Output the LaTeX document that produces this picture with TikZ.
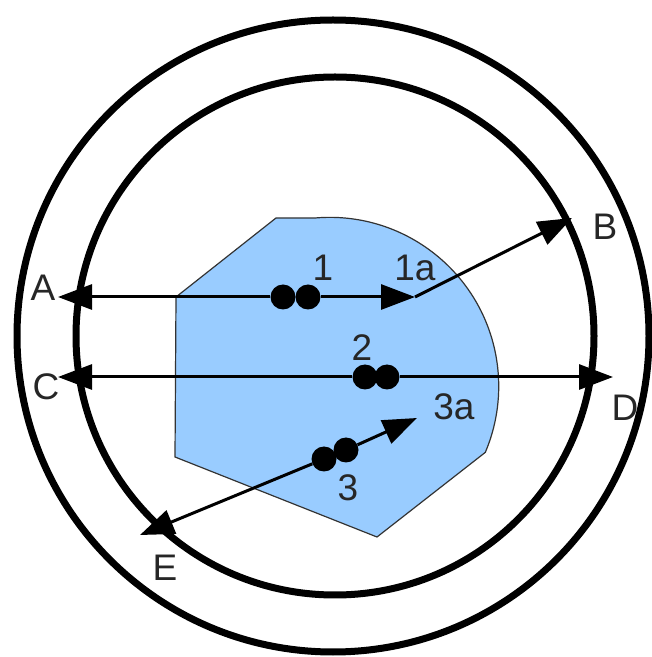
\documentclass[tikz,border=0pt]{standalone}
\usepackage{fontspec}
\setmainfont{Liberation Sans}
\usetikzlibrary{arrows.meta}
\definecolor{zoneblue}{RGB}{153,204,255}

\begin{document}
\begin{tikzpicture}[
    x=1pt, y=1pt,
    every node/.style={font=\fontsize{37}{40}\selectfont, text=black!85},
    ring/.style={line width=7pt},
    zone/.style={fill=zoneblue, draw=black!80, line width=1.2pt},
    pair/.style={circle, fill=black, inner sep=0pt, minimum size=25pt},
    ray/.style={line width=3pt, -{Triangle[length=34pt, width=25pt]}}
]
\useasboundingbox (0,0) rectangle (652,657);
\draw[ring] (333,321) circle[radius=316pt];
\draw[ring] (335,321) circle[radius=259pt];
\draw[zone] (176,360) -- (276,439) -- (315,439) arc[start angle=95, end angle=-23, radius=169pt] -- (377,120) -- (175,200) -- cycle;

\node[pair] (p1l) at (283,360) {};
\node[pair] (p1r) at (308,360) {};
\node[pair] (p2l) at (365,280) {};
\node[pair] (p2r) at (387,280) {};
\node[pair] (p3l) at (324,198) {};
\node[pair] (p3r) at (346,207) {};

\coordinate (a) at (58,360);
\coordinate (b) at (572,439);
\coordinate (c) at (58,280);
\coordinate (d) at (613,280);
\coordinate (e) at (140,122);
\coordinate (p1a) at (415,360);
\coordinate (p3a) at (417,239);

\draw[ray] (p1l) -- (a);
\draw[ray] (p1r) -- (p1a);
\draw[ray] (p1a) -- (b);
\draw[ray] (p2l) -- (c);
\draw[ray] (p2r) -- (d);
\draw[ray] (p3l) -- (e);
\draw[ray] (p3r) -- (p3a);

\node (lbla) at (43,369) {A};
\node (lblb) at (605,430) {B};
\node (lblc) at (46,270) {C};
\node (lbld) at (625,249) {D};
\node (lble) at (165,89) {E};
\node (lbl1) at (323,389) {1};
\node (lbl1a) at (415,389) {1a};
\node (lbl2) at (362,309) {2};
\node (lbl3) at (348,169) {3};
\node (lbl3a) at (454,250) {3a};
\end{tikzpicture}
\end{document}
